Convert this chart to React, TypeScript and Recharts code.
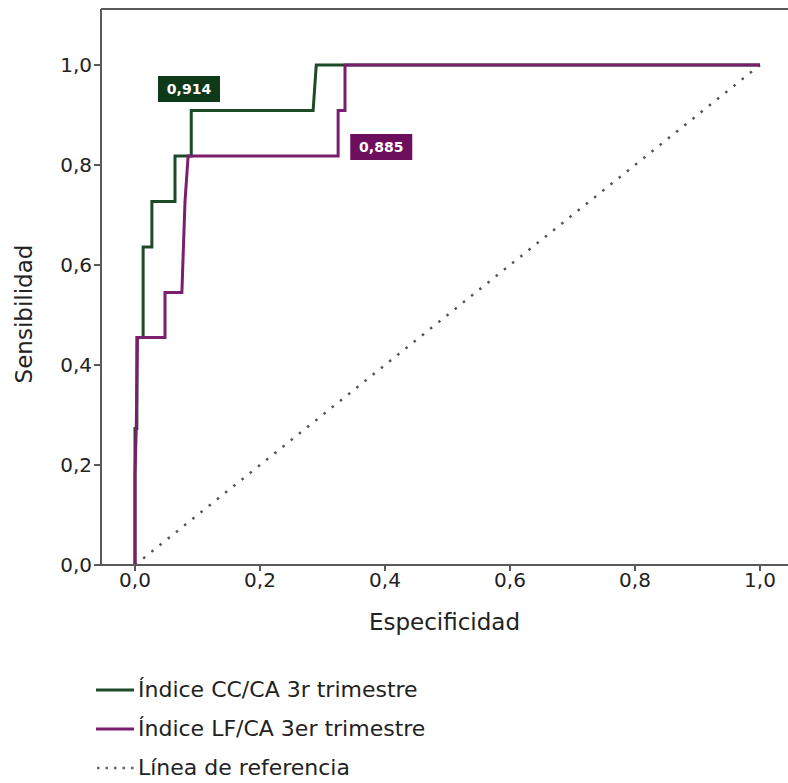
import React from 'react';
import {
  LineChart,
  Line,
  XAxis,
  YAxis,
  ReferenceLine,
  ReferenceDot,
} from 'recharts';

// ROC curves: 1 - specificity (x) vs sensitivity (y)
const ccX = [0, 0, 0.003, 0.003, 0.013, 0.013, 0.027, 0.027, 0.064, 0.064, 0.09, 0.09, 0.285, 0.29, 1];
const ccY = [0, 0.273, 0.273, 0.455, 0.455, 0.636, 0.636, 0.727, 0.727, 0.818, 0.818, 0.909, 0.909, 1, 1];

const lfX = [0, 0, 0.002, 0.004, 0.048, 0.048, 0.075, 0.08, 0.085, 0.325, 0.325, 0.336, 0.336, 1];
const lfY = [0, 0.182, 0.273, 0.455, 0.455, 0.545, 0.545, 0.727, 0.818, 0.818, 0.909, 0.909, 1, 1];

const refX = [0, 1];
const refY = [0, 1];

const ticks = [0, 0.2, 0.4, 0.6, 0.8, 1];

const ccAuc = '0,914';
const lfAuc = '0,885';

const legendNames = [
  'Índice CC/CA 3r trimestre',
  'Índice LF/CA 3er trimestre',
  'Línea de referencia',
];

const GREEN = '#1d4a27';
const PURPLE = '#7a1e6e';
const AXIS = '#5a5a5a';
const FONT = '"DejaVu Sans", Verdana, sans-serif';

const toPoints = (xs: number[], ys: number[]) => xs.map((x, i) => ({ x, y: ys[i] }));

const ccData = toPoints(ccX, ccY);
const lfData = toPoints(lfX, lfY);
const refData = toPoints(refX, refY);

const fmt = (v: number) => v.toFixed(1).replace('.', ',');

const AucBox = (color: string, text: string) => (props: any) => {
  const { cx, cy } = props;
  return (
    <g>
      <rect x={cx - 31} y={cy - 13} width={62} height={26} fill={color} />
      <text
        x={cx}
        y={cy + 5}
        textAnchor="middle"
        fill="#ffffff"
        fontSize={14}
        fontWeight={700}
        fontFamily={FONT}
      >
        {text}
      </text>
    </g>
  );
};

const LegendRow = ({ color, dotted, label }: { color: string; dotted?: boolean; label: string }) => (
  <div style={{ display: 'flex', alignItems: 'center', height: 39 }}>
    <svg width={40} height={10}>
      {dotted ? (
        <line x1={1} y1={5} x2={38} y2={5} stroke="#666" strokeWidth={2.5} strokeDasharray="2.5 6" />
      ) : (
        <line x1={0} y1={5} x2={38} y2={5} stroke={color} strokeWidth={3} />
      )}
    </svg>
    <span style={{ marginLeft: 2 }}>{label}</span>
  </div>
);

const App: React.FC = () => {
  return (
    <div style={{ position: 'absolute', left: 0, top: 0, width: 788, height: 783, background: '#fff' }}>
      <LineChart width={788} height={783} margin={{ top: 9, right: 0, left: 0, bottom: 148 }}>
        <XAxis
          type="number"
          dataKey="x"
          domain={[-0.0544, 1.0448]}
          allowDataOverflow
          ticks={ticks}
          tickFormatter={fmt}
          stroke={AXIS}
          strokeWidth={2}
          tickSize={6}
          tick={{ fill: '#222', fontSize: 20, fontFamily: FONT }}
          height={70}
          label={{
            value: 'Especificidad',
            position: 'insideBottom',
            offset: 5,
            fill: '#222',
            fontSize: 23,
            fontFamily: FONT,
          }}
        />
        <YAxis
          type="number"
          dataKey="y"
          domain={[0, 1.112]}
          allowDataOverflow
          ticks={ticks}
          tickFormatter={fmt}
          stroke={AXIS}
          strokeWidth={2}
          tickSize={7}
          tick={{ fill: '#222', fontSize: 20, fontFamily: FONT }}
          width={101}
          label={{
            content: () => (
              <text
                x={32}
                y={314}
                transform="rotate(-90 32 314)"
                textAnchor="middle"
                fill="#222"
                fontSize={23}
                fontFamily={FONT}
              >
                Sensibilidad
              </text>
            ),
          }}
        />
        <ReferenceLine y={1.112} stroke={AXIS} strokeWidth={2} />
        <Line
          data={refData}
          dataKey="y"
          type="linear"
          stroke="#555"
          strokeWidth={2.5}
          strokeDasharray="2.5 8"
          dot={false}
          isAnimationActive={false}
        />
        <Line
          data={ccData}
          dataKey="y"
          type="linear"
          stroke={GREEN}
          strokeWidth={3}
          dot={false}
          isAnimationActive={false}
        />
        <Line
          data={lfData}
          dataKey="y"
          type="linear"
          stroke={PURPLE}
          strokeWidth={3}
          dot={false}
          isAnimationActive={false}
        />
        <ReferenceDot x={0.0864} y={0.952} r={0} shape={AucBox('#0f3a1a', ccAuc)} />
        <ReferenceDot x={0.394} y={0.836} r={0} shape={AucBox('#6e0f5e', lfAuc)} />
      </LineChart>
      <div
        style={{
          position: 'absolute',
          left: 96,
          top: 670,
          fontFamily: FONT,
          fontSize: 22,
          color: '#222',
        }}
      >
        <LegendRow color={GREEN} label={legendNames[0]} />
        <LegendRow color={PURPLE} label={legendNames[1]} />
        <LegendRow color="#777" dotted label={legendNames[2]} />
      </div>
    </div>
  );
};

export default App;
